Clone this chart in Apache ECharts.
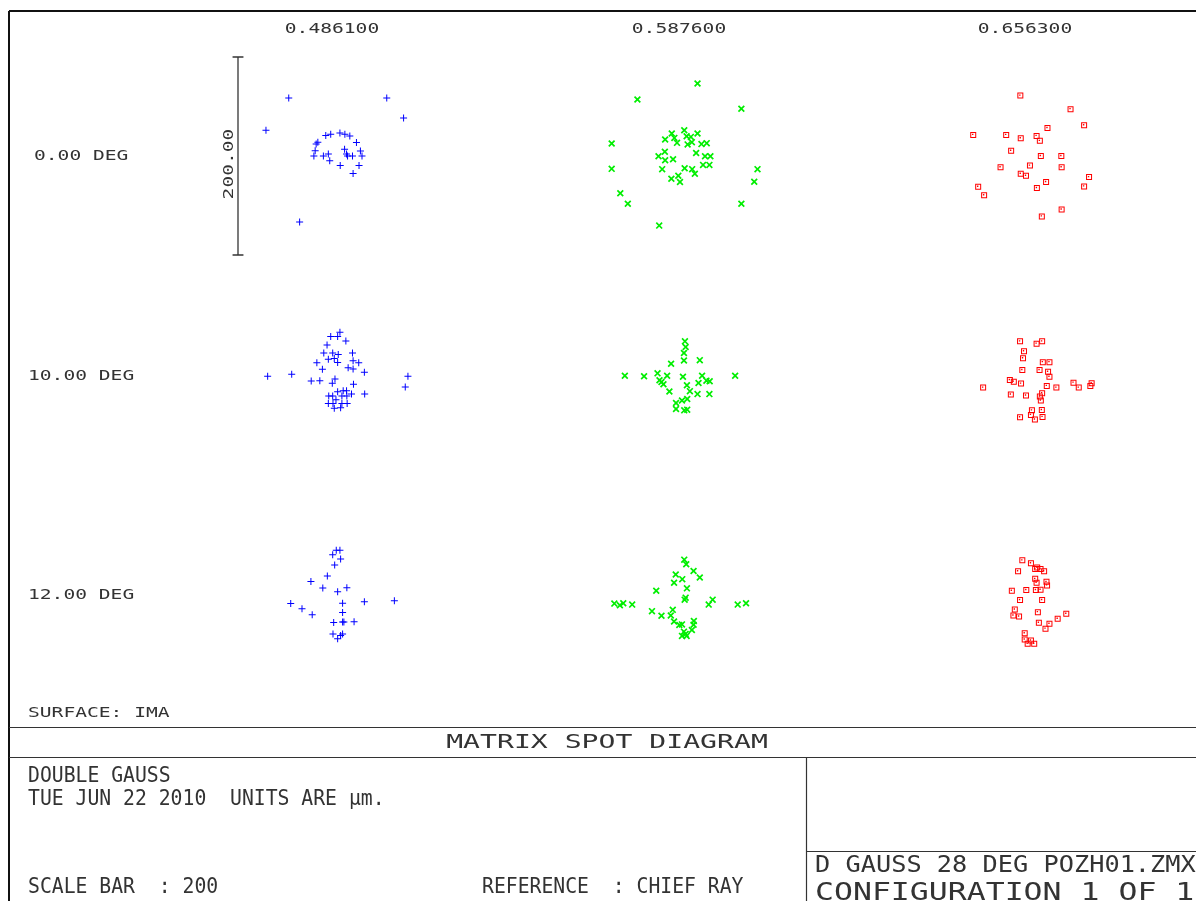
<!DOCTYPE html>
<html>
<head>
<meta charset="utf-8">
<script src="https://cdn.jsdelivr.net/npm/echarts@6/dist/echarts.min.js"></script>
<style>
  html, body { margin: 0; padding: 0; background: #fff; }
  #chart { width: 1196px; height: 901px; }
</style>
</head>
<body>
<div id="chart"></div>
<script>
// Wavelengths (µm) across the top, field angles down the side
const wavelengths = ['0.486100', '0.587600', '0.656300'];
const fields = ['0.00 DEG', '10.00 DEG', '12.00 DEG'];
const scaleBar = 200; // µm

// Ray intercepts relative to the chief ray, [x, y] in µm
// field 0.00 deg
const spotsF1W1 = [[-43.7,58.7],[55.3,58.7],[72.3,38.3],[-66.7,26],[-32.7,-66.7],[-6.3,20.7],[-1.3,22],[8,23.3],[13,22],[18,20.3],[-14.3,14],[-16,12],[24.7,13.7],[-17,5.3],[12.7,6.7],[28.7,5],[-18.3,0],[-8.7,0],[-3.7,2],[14.7,2],[15.7,0],[20.7,0],[30.3,0],[-2.3,-4.7],[8.3,-9.7],[27.3,-9.7],[21.3,-17.7]];
const spotsF1W2 = [[18.7,73.3],[-42,57],[63,47.7],[-68,12.7],[-68,-13],[79.3,-13.3],[76,-26],[-59.3,-37.7],[-51.7,-48.3],[63,-48.3],[-20,-70.3],[-7.3,22.7],[5.3,26],[18.7,22.7],[-14,16.7],[-4.7,18.3],[7.7,20],[12,19.3],[-2,13.3],[8.7,11.7],[13,14],[22.7,12],[28,13],[-14.3,4.3],[-20.7,-0.3],[-14,-4.3],[-6,-3.3],[17.3,3],[26.3,-0.3],[31.7,-0.3],[-17,-13.3],[5.7,-12.3],[13.3,-13.3],[16,-18],[24.3,-9],[30.7,-9],[-0.7,-20],[-7.7,-23],[1,-26.3]];
const spotsF1W3 = [[-4.7,61],[46,47.3],[59.7,31],[22.7,28.3],[-52.3,21.3],[-19,21.3],[-4.3,18],[11.7,20.3],[15,15.3],[-14,5.3],[16,0],[36.7,0],[-24.7,-11.3],[5,-9.7],[37,-11.3],[-4.3,-18],[1,-20],[64.7,-21.3],[21.3,-26.3],[-47.3,-31],[12,-32.3],[59.7,-30.7],[-41.3,-39.7],[37,-54],[17,-61]];
// field 10.00 deg
const spotsF2W1 = [[8,44.3],[-1.3,40],[5.7,40],[14,35.3],[-5,31.3],[-8.3,23.3],[0.7,23.3],[6.3,21.7],[20.7,23.3],[-3.7,17],[2.3,17.7],[5.7,13.7],[21.3,15.3],[27,13.3],[-15.3,13.3],[-9.7,6.7],[16.3,8.3],[21.3,7],[32.7,3.7],[-65,-0.3],[-40.7,1.7],[-21,-5],[-12.3,-4.7],[3,-3],[0.3,-7.3],[21.7,-8.3],[76.7,-0.3],[74,-11],[5.7,-16],[11.3,-15],[14.7,-15],[19.7,-18.3],[33,-18.3],[-3.3,-20.3],[0.7,-20.3],[10,-20.3],[15,-20.3],[4,-24],[-3.7,-27.7],[1,-27.7],[10,-27.7],[15.3,-27.7],[2.3,-32.7],[8.7,-32]];
const spotsF2W2 = [[6,35],[6.7,29.3],[5,23.3],[5,15.7],[-8,12.3],[21,16],[-54.7,0.3],[-35.3,-0.3],[-21.7,2.7],[-12,0.3],[4,-0.7],[23.3,0.3],[56.7,0.3],[-19.7,-4.3],[-17.7,-6],[-15.7,-8.3],[19.7,-7],[27.7,-4.7],[31,-5.3],[8,-9.3],[-9.7,-15.7],[11,-15.3],[18.7,-18.3],[30.7,-18.3],[-3,-27.3],[3,-24.7],[8.3,-23.3],[-3,-33.3],[5.3,-34.7],[8.3,-34]];
const spotsF2W3 = [[-5,35],[11.7,32.7],[17.3,35],[-1,25],[-2,18],[18,14],[24.7,14],[-2.7,6],[14.7,6],[23.3,4.3],[24.7,-0.7],[-15.3,-4],[-11.3,-5.7],[-4,-7.7],[-42.3,-11.7],[22,-10],[31.7,-11.7],[49,-6.7],[54.3,-11.7],[66,-10],[67.3,-7.3],[-14.3,-18.7],[1,-19.7],[17.3,-17.3],[15,-20.7],[16,-24.7],[7,-34.7],[17,-34.3],[6,-39.3],[-5,-41.7],[10,-44],[17.7,-41.3]];
// field 12.00 deg
const spotsF3W1 = [[4.3,45.3],[8,45.3],[0.7,40.7],[8.7,36.3],[2.7,30.3],[-4.7,19.3],[-21.3,13.7],[-9.3,7],[5.7,3.3],[15,7.3],[-41.7,-8.7],[-30.3,-14],[-20,-20],[10.7,-8.3],[32.7,-6.7],[63,-5.7],[10.7,-17.7],[1.7,-27.7],[10.7,-27.3],[12,-27.3],[22.3,-27],[1,-39.3],[10.7,-39.3],[8.7,-41],[5.7,-44.3]];
const spotsF3W2 = [[5.3,35.7],[7.3,31],[14.7,24.3],[21,17.7],[-3.3,20.7],[3.3,16],[-5,12.3],[8,6.7],[-23,4.3],[6.7,-2.7],[5.7,-4.7],[34,-4.7],[30,-9.7],[-65.3,-8.7],[-59.7,-10.3],[-56.3,-8.3],[-47.3,-9.7],[59.3,-9.7],[67.7,-8.3],[-27.3,-16.3],[-17.7,-21],[-6.3,-15],[-8.3,-20.7],[-5,-26.7],[0.3,-30.3],[3,-29.7],[15,-26.3],[14.7,-30],[13,-35.3],[5,-37],[3,-41.3],[7.7,-41.3],[6.7,-39.3]];
const spotsF3W3 = [[-2.7,35],[6,32],[-7,24],[10.3,26.3],[12.3,27.7],[15.7,26.3],[19.3,24],[10.3,16.3],[11.7,12.3],[21.7,13.3],[22.3,9.7],[-13.3,4.3],[1.3,5],[11,5],[15.7,5.3],[-5,-5],[17.3,-5],[-10.3,-14.7],[-11.7,-20.7],[-6,-21.7],[13,-17.3],[41.7,-19],[33,-24],[14,-28],[24.7,-29],[20.7,-34],[-0.3,-38.7],[-0.3,-45],[6,-46],[2.7,-49.3],[9.3,-49.3]];

const spotGrid = [
  [spotsF1W1, spotsF1W2, spotsF1W3],
  [spotsF2W1, spotsF2W2, spotsF2W3],
  [spotsF3W1, spotsF3W2, spotsF3W3]
];

// ---- layout ----
const COL_X = [332, 679, 1025];
const ROW_Y = [156, 376, 595];
const PX_PER_UM = 0.99;
const HALF_UM = 150;
const BOX = 2 * HALF_UM * PX_PER_UM;
const FONT = '"DejaVu Sans Mono", "Liberation Mono", monospace';
const INK = '#333333';

const markers = [
  { color: '#0000ff', size: 7, symbol: 'path://M3,0h1v7h-1zM0,3h7v1h-7z' },
  { color: '#00ee00', size: 7, symbol: 'path://M0,1.2L1.2,0L7,5.8L5.8,7ZM5.8,0L7,1.2L1.2,7L0,5.8Z' },
  { color: '#ff0000', size: 6, symbol: 'path://M0,0h6v6h-6zM1,1v4h4v-4zM1.8,1.8h1.4v1.4h-1.4z' }
];

const grids = [], xAxes = [], yAxes = [], series = [];
for (let r = 0; r < 3; r++) {
  for (let c = 0; c < 3; c++) {
    const i = r * 3 + c;
    grids.push({ left: COL_X[c] - BOX / 2, top: ROW_Y[r] - BOX / 2, width: BOX, height: BOX });
    xAxes.push({ type: 'value', gridIndex: i, min: -HALF_UM, max: HALF_UM, show: false });
    yAxes.push({ type: 'value', gridIndex: i, min: -HALF_UM, max: HALF_UM, show: false });
    const m = markers[c];
    series.push({
      type: 'scatter', xAxisIndex: i, yAxisIndex: i,
      data: spotGrid[r][c],
      symbol: m.symbol, symbolSize: m.size,
      itemStyle: { color: m.color, opacity: 1 },
      silent: true
    });
  }
}

// scale bar in the first cell, drawn through that cell's axes
const barX = (238 - COL_X[0]) / PX_PER_UM;
const half = scaleBar / 2;
const capL = barX - 5.5, capR = barX + 5.5;
const barLines = [
  [[barX, -half], [barX, half]],
  [[capL, half], [capR, half]],
  [[capL, -half], [capR, -half]]
];
barLines.forEach(seg => series.push({
  type: 'line', xAxisIndex: 0, yAxisIndex: 0, data: seg,
  symbol: 'none', lineStyle: { color: '#333', width: 1.3 }, silent: true, z: 1
}));

// ---- text & frame ----
function txt(text, x, y, fs, sx, align, extra) {
  return Object.assign({
    type: 'text', x: x, y: y, scaleX: sx, silent: true,
    style: {
      text: text, font: fs + 'px ' + FONT, fill: INK,
      align: align, verticalAlign: 'middle',
      textAlign: align, textVerticalAlign: 'middle'
    }
  }, extra || {});
}
function line(x1, y1, x2, y2, w, col) {
  return { type: 'line', silent: true, shape: { x1, y1, x2, y2 },
    style: { stroke: col || '#222', lineWidth: w || 1 } };
}

const graphics = [
  line(9, 11, 1196, 11, 2, '#111'),
  line(9, 11, 9, 901, 2, '#111'),
  line(9, 727.5, 1196, 727.5, 1.2, '#333'),
  line(9, 757.5, 1196, 757.5, 1.2, '#333'),
  line(806.5, 757, 806.5, 901, 1.2, '#333'),
  line(806, 851.5, 1196, 851.5, 1.2, '#333')
];
wavelengths.forEach((w, c) => graphics.push(txt(w, COL_X[c], 29, 14, 1.4, 'center')));
const rowLabelX = [34, 28, 28];
fields.forEach((f, r) => graphics.push(txt(f, rowLabelX[r], ROW_Y[r], 14, 1.4, 'left')));
graphics.push(txt(scaleBar.toFixed(2), 229, 164, 14, 1.4, 'center', { rotation: Math.PI / 2 }));
graphics.push(txt('SURFACE: IMA', 28, 713, 14, 1.4, 'left'));
graphics.push(txt('MATRIX SPOT DIAGRAM', 607, 743, 19, 1.48, 'center'));
graphics.push(txt('DOUBLE GAUSS', 28, 777, 21, 0.94, 'left'));
graphics.push(txt('TUE JUN 22 2010  UNITS ARE \u00b5m.', 28, 800, 21, 0.94, 'left'));
graphics.push(txt('SCALE BAR  : ' + scaleBar, 28, 888, 21, 0.94, 'left'));
graphics.push(txt('REFERENCE  : CHIEF RAY', 482, 888, 21, 0.94, 'left'));
graphics.push(txt('D GAUSS 28 DEG POZH01.ZMX', 815, 866, 23, 1.1, 'left'));
graphics.push(txt('CONFIGURATION 1 OF 1', 815, 893, 25, 1.26, 'left'));

const chart = echarts.init(document.getElementById('chart'), null, { renderer: 'canvas' });
chart.setOption({
  animation: false,
  backgroundColor: '#ffffff',
  grid: grids,
  xAxis: xAxes,
  yAxis: yAxes,
  series: series,
  graphic: { elements: graphics }
});
</script>
</body>
</html>
